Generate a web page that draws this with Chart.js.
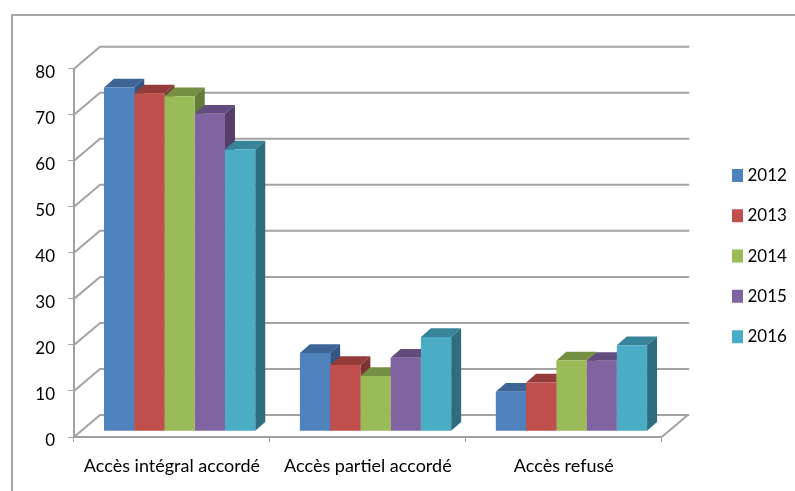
<!DOCTYPE html>
<html lang="fr">
<head>
  <meta charset="UTF-8">
  <title>Accès aux documents 2012-2016</title>
  <script src="https://cdn.jsdelivr.net/npm/chart.js"></script>
  <style>
    body { margin: 0; background: #fff; }
    canvas { display: block; }
  </style>
</head>
<body>
  <canvas id="accesChart" width="795" height="491"></canvas>

  <script>
    const categories = ['Accès intégral accordé', 'Accès partiel accordé', 'Accès refusé'];
    const years = ['2012', '2013', '2014', '2015', '2016'];
    const values2012 = [74.7, 17, 8.6];
    const values2013 = [73.4, 14.4, 10.6];
    const values2014 = [72.8, 12, 15.4];
    const values2015 = [69, 16, 15.3];
    const values2016 = [61.2, 20.5, 18.7];
    const yTicks = [0, 10, 20, 30, 40, 50, 60, 70, 80];

    const seriesValues = [values2012, values2013, values2014, values2015, values2016];
    const frontColors = ['#4f81bd', '#c0504d', '#9bbb59', '#8064a2', '#4bacc6'];
    const topColors = ['#3c6494', '#943c3a', '#769043', '#624c7d', '#38849a'];
    const sideColors = ['#335580', '#7e3331', '#657b3a', '#533f6a', '#2f6d7e'];

    const gridColor = '#a3a3a3';
    const fontName = 'Lato';

    // fake 3D: back wall offset, bar plane offset, bar depth
    const wallDx = 26, wallDy = -22;
    const barDx = 7.65, barDy = -5.7;
    const depthDx = 10, depthDy = -8.7;

    const chart3d = {
      id: 'chart3d',
      beforeDraw(chart) {
        const ctx = chart.ctx;
        ctx.save();
        ctx.fillStyle = '#fff';
        ctx.fillRect(0, 0, chart.width, chart.height);
        ctx.strokeStyle = '#a6a6a6';
        ctx.lineWidth = 2;
        ctx.beginPath();
        ctx.moveTo(12, chart.height);
        ctx.lineTo(12, 15);
        ctx.lineTo(chart.width, 15);
        ctx.stroke();
        ctx.restore();
      },
      afterLayout(chart) {
        // legend sits far from the plot, further than the layout gives
        chart.legend.left = 712.7;
        chart.legend.right = 795;
        chart.legend.top -= 23.8;
        chart.legend.bottom -= 23.8;
      },
      beforeDatasetsDraw(chart) {
        const ctx = chart.ctx;
        const area = chart.chartArea;
        const y = chart.scales.y;

        ctx.save();
        ctx.strokeStyle = gridColor;
        ctx.lineWidth = 2;
        yTicks.forEach(v => {
          const py = y.getPixelForValue(v);
          ctx.beginPath();
          ctx.moveTo(area.left, py);
          ctx.lineTo(area.left + wallDx, py + wallDy);
          ctx.lineTo(area.right + wallDx + 1.5, py + wallDy);
          ctx.stroke();
        });
        ctx.beginPath();
        ctx.moveTo(area.right, y.getPixelForValue(0));
        ctx.lineTo(area.right + wallDx, y.getPixelForValue(0) + wallDy);
        ctx.stroke();
        ctx.restore();

        // restored in afterDatasetsDraw so the library's bars get the same shift
        ctx.save();
        ctx.translate(barDx, barDy);
        seriesValues.forEach((_, i) => {
          chart.getDatasetMeta(i).data.forEach(bar => {
            const left = bar.x - bar.width / 2;
            const right = bar.x + bar.width / 2;
            ctx.fillStyle = topColors[i];
            ctx.beginPath();
            ctx.moveTo(left, bar.y);
            ctx.lineTo(left + depthDx, bar.y + depthDy);
            ctx.lineTo(right + depthDx, bar.y + depthDy);
            ctx.lineTo(right, bar.y);
            ctx.closePath();
            ctx.fill();
            ctx.fillStyle = sideColors[i];
            ctx.beginPath();
            ctx.moveTo(right, bar.y);
            ctx.lineTo(right + depthDx, bar.y + depthDy);
            ctx.lineTo(right + depthDx, bar.base + depthDy);
            ctx.lineTo(right, bar.base);
            ctx.closePath();
            ctx.fill();
          });
        });
      },
      afterDatasetsDraw(chart) {
        chart.ctx.restore();
      }
    };

    new Chart(document.getElementById('accesChart').getContext('2d'), {
      type: 'bar',
      data: {
        labels: categories,
        datasets: years.map((year, i) => ({
          label: year,
          data: seriesValues[i],
          backgroundColor: frontColors[i],
          borderWidth: 0,
          clip: false,
          categoryPercentage: 0.772,
          barPercentage: 1
        }))
      },
      options: {
        responsive: false,
        animation: false,
        layout: { padding: { top: 68.7, left: 0, bottom: 0, right: 49 } },
        plugins: {
          tooltip: { enabled: false },
          legend: {
            position: 'right',
            labels: {
              color: '#000',
              font: { family: fontName, size: 17 },
              padding: 23.3,
              boxWidth: 3,
              boxHeight: 5,
              generateLabels(chart) {
                const items = Chart.defaults.plugins.legend.labels.generateLabels(chart);
                // thick stroke around a small box: swatch stays close to its text
                items.forEach(item => {
                  item.strokeStyle = item.fillStyle;
                  item.lineWidth = 8;
                });
                return items;
              }
            }
          }
        },
        scales: {
          x: {
            afterFit(scale) { scale.height = 54; },
            border: { color: '#a0a0a0', width: 2 },
            grid: { drawOnChartArea: false, drawTicks: true, tickLength: 5, color: gridColor },
            ticks: { color: '#000', font: { family: fontName, size: 18 }, padding: 13, maxRotation: 0 }
          },
          y: {
            min: 0,
            max: 80,
            afterFit(scale) { scale.width = 74; },
            border: { color: '#a0a0a0', width: 2 },
            grid: { drawOnChartArea: false, drawTicks: true, tickLength: 6, color: gridColor },
            ticks: { stepSize: 10, color: '#000', font: { family: fontName, size: 17 }, padding: 13, labelOffset: 3.5 }
          }
        }
      },
      plugins: [chart3d]
    });
  </script>
</body>
</html>
